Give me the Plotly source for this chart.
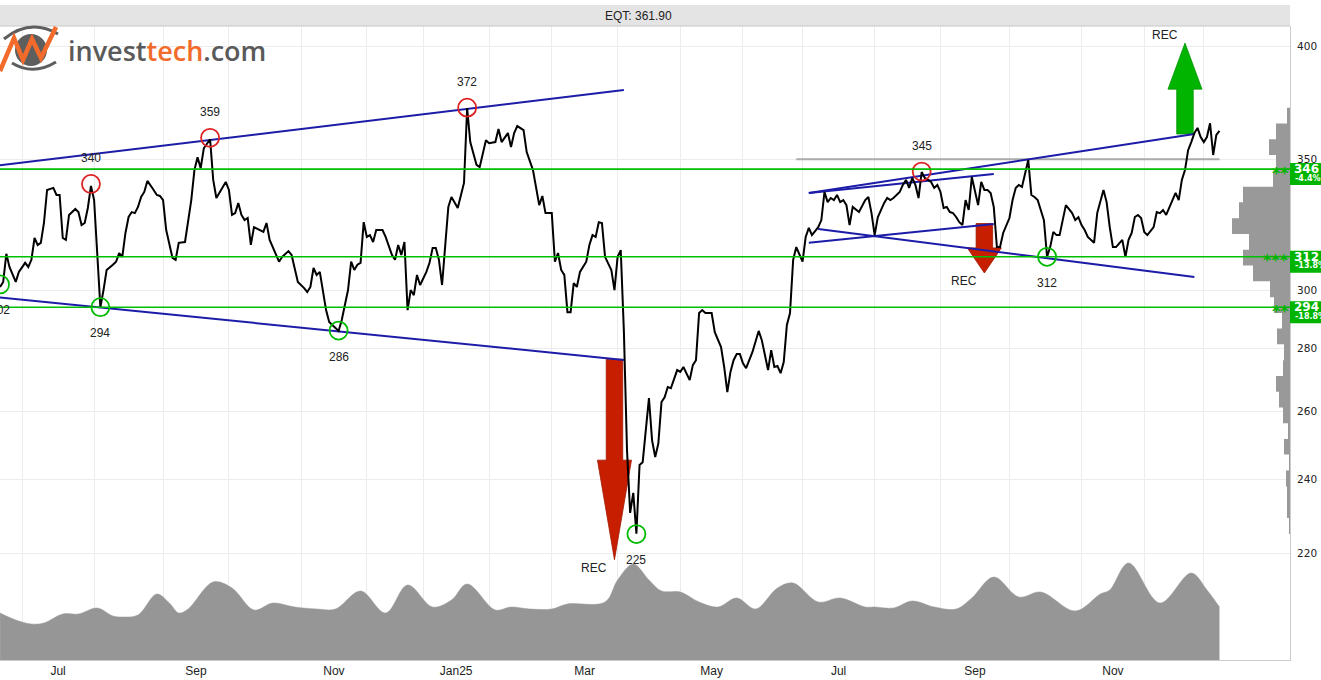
import numpy as np
import pandas as pd
import plotly.graph_objects as go

# ---------------- data ----------------
ticker = "EQT"

dates = [
    "2024-06-19","2024-06-20","2024-06-24","2024-06-25","2024-06-27","2024-06-28","2024-07-02","2024-07-03","2024-07-04","2024-07-05",
    "2024-07-08","2024-07-09","2024-07-10","2024-07-11","2024-07-15","2024-07-16","2024-07-17","2024-07-18","2024-07-19","2024-07-22",
    "2024-07-24","2024-07-25","2024-07-26","2024-07-29","2024-07-30","2024-07-31","2024-08-01","2024-08-02","2024-08-05","2024-08-06",
    "2024-08-07","2024-08-09","2024-08-12","2024-08-13","2024-08-14","2024-08-15","2024-08-16","2024-08-19","2024-08-20","2024-08-21",
    "2024-08-22","2024-08-23","2024-08-26","2024-08-28","2024-08-29","2024-08-30","2024-09-02","2024-09-03","2024-09-05","2024-09-06",
    "2024-09-09","2024-09-11","2024-09-13","2024-09-16","2024-09-17","2024-09-18","2024-09-19","2024-09-23","2024-09-24","2024-09-25",
    "2024-09-27","2024-09-30","2024-10-01","2024-10-02","2024-10-03","2024-10-04","2024-10-07","2024-10-08","2024-10-09","2024-10-10",
    "2024-10-11","2024-10-15","2024-10-16","2024-10-17","2024-10-18","2024-10-21","2024-10-23","2024-10-24","2024-10-28","2024-10-29",
    "2024-10-31","2024-11-04","2024-11-05","2024-11-06","2024-11-07","2024-11-08","2024-11-11","2024-11-13","2024-11-14","2024-11-18",
    "2024-11-19","2024-11-20","2024-11-22","2024-11-25","2024-11-26","2024-11-27","2024-11-28","2024-11-29","2024-12-02","2024-12-03",
    "2024-12-04","2024-12-05","2024-12-09","2024-12-10","2024-12-11","2024-12-12","2024-12-13","2024-12-16","2024-12-17","2024-12-18",
    "2024-12-19","2024-12-20","2024-12-23","2024-12-27","2024-12-30","2025-01-02","2025-01-03","2025-01-07","2025-01-08","2025-01-09",
    "2025-01-10","2025-01-13","2025-01-15","2025-01-16","2025-01-20","2025-01-22","2025-01-23","2025-01-24","2025-01-27","2025-01-28",
    "2025-01-29","2025-01-31","2025-02-03","2025-02-05","2025-02-06","2025-02-07","2025-02-11","2025-02-12","2025-02-13","2025-02-14",
    "2025-02-18","2025-02-19","2025-02-21","2025-02-24","2025-02-25","2025-02-26","2025-02-27","2025-03-03","2025-03-04","2025-03-05",
    "2025-03-06","2025-03-07","2025-03-10","2025-03-11","2025-03-12","2025-03-13","2025-03-14","2025-03-18","2025-03-19","2025-03-20",
    "2025-03-21","2025-03-24","2025-03-25","2025-03-26","2025-03-27","2025-03-28","2025-03-31","2025-04-01","2025-04-02","2025-04-03",
    "2025-04-04","2025-04-07","2025-04-08","2025-04-09","2025-04-10","2025-04-11","2025-04-15","2025-04-16","2025-04-17","2025-04-22",
    "2025-04-23","2025-04-24","2025-04-25","2025-04-28","2025-04-30","2025-05-02","2025-05-05","2025-05-07","2025-05-08","2025-05-09",
    "2025-05-12","2025-05-13","2025-05-14","2025-05-16","2025-05-19","2025-05-21","2025-05-22","2025-05-23","2025-05-26","2025-05-27",
    "2025-05-28","2025-05-30","2025-06-02","2025-06-03","2025-06-05","2025-06-09","2025-06-10","2025-06-11","2025-06-13","2025-06-16",
    "2025-06-17","2025-06-18","2025-06-19","2025-06-23","2025-06-24","2025-06-25","2025-06-26","2025-06-27","2025-06-30","2025-07-01",
    "2025-07-02","2025-07-03","2025-07-04","2025-07-08","2025-07-09","2025-07-10","2025-07-11","2025-07-14","2025-07-15","2025-07-16",
    "2025-07-17","2025-07-18","2025-07-21","2025-07-22","2025-07-23","2025-07-24","2025-07-25","2025-07-29","2025-07-30","2025-07-31",
    "2025-08-01","2025-08-04","2025-08-06","2025-08-07","2025-08-08","2025-08-11","2025-08-13","2025-08-14","2025-08-15","2025-08-18",
    "2025-08-19","2025-08-20","2025-08-21","2025-08-22","2025-08-25","2025-08-26","2025-08-27","2025-08-28","2025-08-29","2025-09-01",
    "2025-09-02","2025-09-03","2025-09-04","2025-09-05","2025-09-08","2025-09-09","2025-09-10","2025-09-11","2025-09-12","2025-09-15",
    "2025-09-16","2025-09-17","2025-09-18","2025-09-19","2025-09-22","2025-09-23","2025-09-24","2025-09-25","2025-09-26","2025-09-29",
    "2025-10-01","2025-10-02","2025-10-03","2025-10-06","2025-10-07","2025-10-09","2025-10-10","2025-10-13","2025-10-14","2025-10-16",
    "2025-10-17","2025-10-20","2025-10-21","2025-10-22","2025-10-23","2025-10-27","2025-10-29","2025-10-30","2025-10-31","2025-11-03",
    "2025-11-04","2025-11-05","2025-11-07","2025-11-10","2025-11-12","2025-11-13","2025-11-14","2025-11-17","2025-11-18","2025-11-20",
    "2025-11-21","2025-11-24","2025-11-25","2025-11-26","2025-11-27","2025-11-28","2025-12-01","2025-12-02","2025-12-04","2025-12-05",
    "2025-12-08","2025-12-09","2025-12-10","2025-12-11","2025-12-12","2025-12-15","2025-12-16","2025-12-17","2025-12-18","2025-12-19",
    "2025-12-22","2025-12-23","2025-12-29","2025-12-30","2026-01-02","2026-01-05","2026-01-07","2026-01-08","2026-01-09","2026-01-12",
]

close = [
    301.1,302.9,313.1,308.3,302.9,306.5,309.8,308.3,310.9,319.0,
    316.4,317.2,324.7,337.6,338.4,335.6,335.6,319.0,318.3,327.8,
    330.1,328.9,323.9,324.7,330.5,339.2,333.6,312.0,294.0,300.0,
    307.2,309.1,310.2,313.4,312.0,320.9,327.0,328.9,328.5,330.9,
    334.8,336.8,341.2,337.6,335.6,335.2,333.6,322.0,311.6,310.9,
    317.2,317.5,333.6,345.6,350.9,346.4,354.6,358.4,341.6,334.4,
    338.8,340.8,337.6,327.8,328.5,332.4,327.8,325.8,326.6,316.4,
    323.1,322.0,321.3,324.7,318.3,315.6,310.2,312.0,314.1,312.7,
    302.9,300.7,299.3,301.1,307.9,305.4,306.5,293.0,288.9,286.9,
    285.9,289.6,300.0,310.2,307.2,309.1,309.8,325.0,319.4,320.1,
    317.5,322.0,322.0,319.4,316.4,312.7,310.9,316.4,312.7,317.5,
    293.0,300.0,298.2,305.4,301.8,304.3,306.5,309.8,315.3,315.3,
    310.9,301.8,330.9,334.8,330.5,340.4,371.8,357.2,352.6,347.7,
    346.8,358.0,356.7,357.2,362.7,357.2,361.0,355.1,361.0,364.0,
    362.3,353.0,345.6,338.8,331.6,335.2,328.5,328.5,310.2,313.4,
    307.2,305.4,292.3,292.3,302.5,301.1,306.5,310.2,316.4,320.1,
    319.4,325.0,324.7,312.0,309.8,307.2,300.0,312.0,314.5,286.0,
    248.4,230.7,236.2,225.1,244.1,244.9,264.1,251.3,246.4,250.4,
    262.9,264.4,267.6,267.2,273.0,272.4,274.0,269.8,274.6,276.2,
    292.0,293.0,292.0,292.0,285.5,280.5,274.0,266.0,272.4,276.2,
    278.2,278.2,275.2,273.6,278.8,282.8,285.9,282.8,273.0,279.5,
    274.0,274.3,272.0,275.6,287.9,292.0,310.9,315.6,312.7,310.2,
    319.4,322.8,320.1,323.1,325.8,336.8,332.8,334.4,333.6,335.6,
    332.8,333.6,331.6,323.9,330.9,329.7,328.9,333.6,334.8,328.5,
    320.1,326.9,332.4,334.4,333.6,334.4,336.8,339.6,341.6,338.4,
    342.4,339.6,334.4,344.8,342.4,341.6,340.8,338.4,339.6,336.8,
    330.5,330.9,328.9,328.5,327.0,325.0,323.9,333.6,329.7,342.8,
    336.4,331.6,340.8,337.6,337.6,336.4,330.9,315.6,315.6,320.9,
    326.6,333.6,338.4,339.6,338.8,349.7,335.6,334.8,333.6,325.8,
    312.0,315.6,321.3,320.1,320.1,331.6,328.5,325.8,326.9,323.9,
    322.0,319.4,317.2,328.5,337.6,332.8,323.1,315.6,315.6,318.3,
    312.0,318.3,320.9,327.0,327.8,326.6,321.3,320.1,323.1,328.9,
    328.5,329.7,327.8,330.5,333.6,336.4,333.6,341.6,345.6,353.8,
    357.2,361.0,363.2,359.3,357.2,359.3,365.2,351.8,360.2,361.9,
]

# smoothed volume (millions of shares)
vol_dates = [
    "2024-06-19","2024-06-27","2024-07-04","2024-07-10","2024-07-18","2024-07-25","2024-08-02","2024-08-09","2024-08-14","2024-08-21",
    "2024-08-29","2024-09-04","2024-09-09","2024-09-12","2024-09-24","2024-10-02","2024-10-11","2024-10-21","2024-10-30","2024-11-08",
    "2024-11-18","2024-11-28","2024-12-10","2024-12-19","2025-01-08","2025-01-16","2025-01-23","2025-02-05","2025-02-12","2025-02-20",
    "2025-03-03","2025-03-10","2025-03-26","2025-04-01","2025-04-08","2025-04-15","2025-04-23","2025-05-02","2025-05-12","2025-05-20",
    "2025-05-28","2025-06-09","2025-06-18","2025-06-26","2025-07-08","2025-07-17","2025-07-29","2025-08-01","2025-08-11","2025-08-19",
    "2025-08-28","2025-09-08","2025-09-15","2025-09-24","2025-10-06","2025-10-15","2025-10-30","2025-11-11","2025-11-14","2025-11-24",
    "2025-12-08","2025-12-22","2026-01-05","2026-01-12",
]
volume = [
    4.7,4.0,3.6,3.7,4.6,4.6,5.2,4.4,4.3,4.5,
    6.6,5.7,4.7,5.1,7.8,7.2,5.0,5.7,5.3,5.1,
    5.1,6.9,4.7,7.5,5.3,6.0,7.6,5.0,5.3,5.1,
    5.1,5.6,5.8,8.0,9.6,8.0,6.9,6.8,5.8,5.3,
    6.2,5.1,7.2,7.7,5.8,6.2,5.3,5.3,5.2,5.9,
    5.3,5.1,6.2,8.3,6.3,6.8,4.9,6.6,7.0,9.7,
    5.7,8.7,7.0,5.3,
]

# Stockholm exchange holidays inside the window
holidays = [
    "2024-06-21","2024-12-24","2024-12-25","2024-12-26","2024-12-31",
    "2025-01-01","2025-01-06","2025-04-18","2025-04-21","2025-05-01","2025-05-29",
    "2025-06-06","2025-06-20","2025-12-24","2025-12-25","2025-12-26","2025-12-31",
    "2026-01-01","2026-01-06",
]

# marked tops / bottoms
pivot_dates  = ["2024-06-19","2024-07-31","2024-08-05","2024-09-23","2024-11-19","2025-01-23","2025-04-09","2025-08-22","2025-10-17"]
pivot_values = [302, 340, 294, 359, 286, 372, 225, 345, 312]
pivot_is_top = [False, True, False, True, False, True, False, True, False]

# support / resistance levels and their strength stars
levels = [346, 312, 294]
level_stars = ["**", "***", "**"]

# trend channel lines: (start date, start price, end date, end price)
trend_lines = [
    ("2024-06-18", 347.4, "2025-04-03", 379.8),
    ("2024-06-18", 297.5, "2025-04-03", 276.3),
    ("2025-07-03", 336.4, "2025-12-23", 360.6),
    ("2025-07-03", 336.4, "2025-09-24", 344.0),
    ("2025-07-03", 317.2, "2025-09-24", 324.3),
    ("2025-07-08", 322.4, "2025-12-23", 304.7),
]
# grey horizontal resistance line
ref_line = ("2025-06-27", "2026-01-12", 350)

# breakout signals (REC arrows): date, arrow base price, head-neck price, tip price
signals = [
    dict(date="2025-03-31", base=276.5, neck=245.5, tip=218.3, up=False),
    dict(date="2025-09-19", base=324.5, neck=315.3, tip=306.1, up=False),
    dict(date="2025-12-18", base=360.6, neck=380.2, tip=401.4, up=True),
]

# volume profile on the price axis: bin edges (price) and traded volume per bin
profile_edges = [372.0,365.1,358.4,351.8,345.3,338.9,332.7,326.5,320.5,314.6,308.8,303.1,297.5,292.0,
                 286.7,281.4,276.2,271.1,266.1,261.2,256.4,251.7,247.1,242.5,238.0,233.6,229.3,225.0]
profile_volume = [3,14,21,14,17,47,51,58,41,47,37,20,16,8,13,6,7,14,11,7,2,6,1,4,3,3,1]

price_ticks = [220, 240, 260, 280, 300, 350, 400]
month_labels = [("2024-07", "Jul"), ("2024-09", "Sep"), ("2024-11", "Nov"), ("2025-01", "Jan25"),
                ("2025-03", "Mar"), ("2025-05", "May"), ("2025-07", "Jul"), ("2025-09", "Sep"), ("2025-11", "Nov")]

# ---------------- geometry / style ----------------
W, H = 1321, 680
ML, MR, MT, MB = 0, 31, 26, 20
PW, PH = W - ML - MR, H - MT - MB
YMIN, YMAX = 2.28771, 2.61234

RED, GREEN, BLUE = "#c81e00", "#00b400", "#1c1ca8"
GRID = "#ececec"
TXT = "#222222"

cal = pd.bdate_range("2024-06-03", "2026-03-31", freq="C", holidays=holidays)
pos_of = {d: i for i, d in enumerate(cal)}


def sess_pos(date):
    return pos_of[pd.Timestamp(date)]


def at_pos(p):
    b = int(np.floor(p))
    return cal[b] + pd.Timedelta(hours=24 * (p - b))


x_start = sess_pos("2024-06-19") - 0.02
x_end = sess_pos("2026-02-11") + 0.5
PPS = PW / (x_end - x_start)  # pixels per session


def py(price):  # paper y of a price
    return (np.log10(price) - YMIN) / (YMAX - YMIN)


fig = go.Figure()

# volume profile (right side, drawn from the right edge)
px_, py_ = [0], [profile_edges[0]]
for k, w in enumerate(profile_volume):
    px_ += [w, w]
    py_ += [profile_edges[k], profile_edges[k + 1]]
px_ += [0]
py_ += [profile_edges[-1]]
fig.add_trace(go.Scatter(x=px_, y=py_, xaxis="x2", yaxis="y", mode="lines", fill="toself",
                         fillcolor="#999999", line=dict(width=0, color="#999999")))

# support / resistance lines across the whole width
for lv in levels:
    fig.add_trace(go.Scatter(x=[0, PW], y=[lv, lv], xaxis="x2", yaxis="y", mode="lines",
                             line=dict(color="#00be00", width=1.6)))

# volume area
fig.add_trace(go.Scatter(x=vol_dates, y=volume, yaxis="y2", mode="lines", fill="tozeroy",
                         fillcolor="#969696", line=dict(color="#969696", width=0.5, shape="spline", smoothing=1.0)))

# signal arrows
shaft = 16.5 / PPS / 2
head = 34 / PPS / 2
for s in signals:
    c = sess_pos(s["date"])
    xs = [at_pos(c - shaft), at_pos(c + shaft), at_pos(c + shaft), at_pos(c + head), at_pos(c),
          at_pos(c - head), at_pos(c - shaft), at_pos(c - shaft)]
    ys = [s["base"], s["base"], s["neck"], s["neck"], s["tip"], s["neck"], s["neck"], s["base"]]
    col = GREEN if s["up"] else RED
    edge = "#009600" if s["up"] else "#a01800"
    fig.add_trace(go.Scatter(x=xs, y=ys, mode="lines", fill="toself", fillcolor=col,
                             line=dict(color=edge, width=0.8)))

# grey horizontal line
fig.add_trace(go.Scatter(x=[ref_line[0], ref_line[1]], y=[ref_line[2], ref_line[2]], mode="lines",
                         line=dict(color="#aaaaaa", width=2)))

# trend lines
for d0, p0, d1, p1 in trend_lines:
    fig.add_trace(go.Scatter(x=[d0, d1], y=[p0, p1], mode="lines", line=dict(color=BLUE, width=2)))

# price
fig.add_trace(go.Scatter(x=dates, y=close, mode="lines", line=dict(color="black", width=2)))

# pivot circles
fig.add_trace(go.Scatter(x=pivot_dates, y=pivot_values, mode="markers",
                         marker=dict(symbol="circle-open", size=18,
                                     color=["#dd2222" if t else "#00bb00" for t in pivot_is_top],
                                     line=dict(width=1.8))))

annotations = []
for d, v, top in zip(pivot_dates, pivot_values, pivot_is_top):
    annotations.append(dict(x=d, y=np.log10(v), xref="x", yref="y", text=str(v), showarrow=False,
                            yshift=26 if top else -26, font=dict(family="Liberation Sans", size=12, color=TXT)))
for s in signals:
    annotations.append(dict(x=s["date"], y=np.log10(s["tip"]), xref="x", yref="y", text="REC", showarrow=False,
                            xshift=-20, yshift=8 if s["up"] else -8,
                            font=dict(family="Liberation Sans", size=12, color=TXT)))

last = close[-1]
shapes = []
for lv, st in zip(levels, level_stars):
    yl = py(lv)
    shapes.append(dict(type="rect", xref="paper", yref="paper", x0=1.0, x1=(PW + 45) / PW,
                       y0=yl - 16 / PH, y1=yl + 6 / PH, fillcolor=GREEN, line=dict(width=0), layer="above"))
    annotations.append(dict(x=1.0, y=yl, xref="paper", yref="paper", text=st, showarrow=False,
                            xanchor="right", yanchor="middle", yshift=-4, xshift=1,
                            font=dict(family="DejaVu Sans", size=16, color=GREEN, weight="bold")))
    annotations.append(dict(x=1.0, y=yl, xref="paper", yref="paper", text=f"<b>{lv}</b>", showarrow=False,
                            xanchor="left", yanchor="middle", xshift=2, yshift=0,
                            font=dict(family="DejaVu Sans", size=12, color="white")))
    pct = (lv / last - 1) * 100
    annotations.append(dict(x=1.0, y=yl, xref="paper", yref="paper", text=f"<b>{pct:.1f}%</b>", showarrow=False,
                            xanchor="left", yanchor="middle", xshift=3, yshift=-9,
                            font=dict(family="DejaVu Sans", size=8, color="white")))

# header bar with title
shapes.append(dict(type="rect", xref="paper", yref="paper", x0=0, x1=1, y0=1, y1=1 + 21 / PH,
                   fillcolor="#e4e4e4", line=dict(width=0), layer="above"))
shapes.append(dict(type="line", xref="paper", yref="paper", x0=0, x1=1, y0=1, y1=1,
                   line=dict(color="#c8c8c8", width=1), layer="above"))
annotations.append(dict(x=638 / PW, y=1 + 10.5 / PH, xref="paper", yref="paper", text=f"{ticker}: {last:.2f}",
                        showarrow=False, xanchor="center", yanchor="middle",
                        font=dict(family="Liberation Sans", size=12, color=TXT)))


# logo (decoration)
def P(x, y):
    return f"{x / PW:.5f},{(660 - y) / PH:.5f}"


shapes.append(dict(type="circle", xref="paper", yref="paper", x0=15 / PW, x1=47 / PW,
                   y0=(660 - 66) / PH, y1=(660 - 34) / PH, fillcolor="#5e5e5e", line=dict(width=0), layer="above"))
shapes.append(dict(type="path", xref="paper", yref="paper", path=f"M {P(4, 39)} Q {P(30, 18)} {P(58, 34)}",
                   line=dict(color="#5e5e5e", width=3), layer="above"))
shapes.append(dict(type="path", xref="paper", yref="paper", path=f"M {P(12, 63)} Q {P(33, 76)} {P(56, 62)}",
                   line=dict(color="#5e5e5e", width=3), layer="above"))
shapes.append(dict(type="path", xref="paper", yref="paper",
                   path=f"M {P(0, 71)} L {P(14, 38)} L {P(23, 60)} L {P(32, 39)} L {P(41, 58)} L {P(56, 27)}",
                   line=dict(color="#f26b2a", width=4.5), layer="above"))
annotations.append(dict(x=66 / PW, y=(660 - 51) / PH, xref="paper", yref="paper",
                        text="invest<span style='color:#f26b2a'>tech</span>.com", showarrow=False,
                        xanchor="left", yanchor="middle",
                        font=dict(family="Open Sans", size=27, color="#5a5a5a", weight=600)))

# x axis ticks: labels centred in their month, grid at month starts
cal_s = pd.Series(cal)
month_first = cal_s.groupby(cal_s.dt.to_period("M")).first()
month_count = cal_s.groupby(cal_s.dt.to_period("M")).size()
grid_vals = [month_first[pd.Period(m, "M")] for m in pd.period_range("2024-07", "2026-01", freq="M")]
tick_vals = [at_pos(sess_pos(month_first[pd.Period(m, "M")]) + month_count[pd.Period(m, "M")] / 2)
             for m, _ in month_labels]
tick_text = [t for _, t in month_labels]

fig.update_layout(
    width=W, height=H, template="none",
    margin=dict(l=ML, r=MR, t=MT, b=MB, pad=0),
    paper_bgcolor="white", plot_bgcolor="white",
    showlegend=False, hovermode=False,
    font=dict(family="Liberation Sans", size=12, color=TXT),
    xaxis=dict(type="date", range=[at_pos(x_start), at_pos(x_end)],
               rangebreaks=[dict(bounds=["sat", "mon"]), dict(values=holidays)],
               tickmode="array", tickvals=tick_vals, ticktext=tick_text, showgrid=False,
               minor=dict(tickmode="array", tickvals=grid_vals, showgrid=True, gridcolor=GRID, gridwidth=1, ticks=""),
               showline=True, linecolor="#cccccc", linewidth=1, ticks="", zeroline=False, automargin=False,
               tickfont=dict(family="Liberation Sans", size=12, color=TXT)),
    yaxis=dict(type="log", range=[YMIN, YMAX], side="right", tickmode="array", tickvals=price_ticks,
               ticktext=[str(t) for t in price_ticks], showgrid=True, gridcolor=GRID, gridwidth=1,
               showline=True, linecolor="#cccccc", linewidth=1, ticks="", zeroline=False, automargin=False,
               ticklabelstandoff=4, tickfont=dict(family="DejaVu Sans", size=10.5, color=TXT)),
    yaxis2=dict(overlaying="y", range=[0, PH / 10], visible=False, fixedrange=True),
    xaxis2=dict(overlaying="x", range=[PW, 0], visible=False, fixedrange=True),
    shapes=shapes, annotations=annotations,
)

fig.write_html("out.html", config={"displayModeBar": False},
               post_script="document.body.style.margin='0';document.body.style.padding='0';"
                           "document.body.style.overflow='hidden';")
